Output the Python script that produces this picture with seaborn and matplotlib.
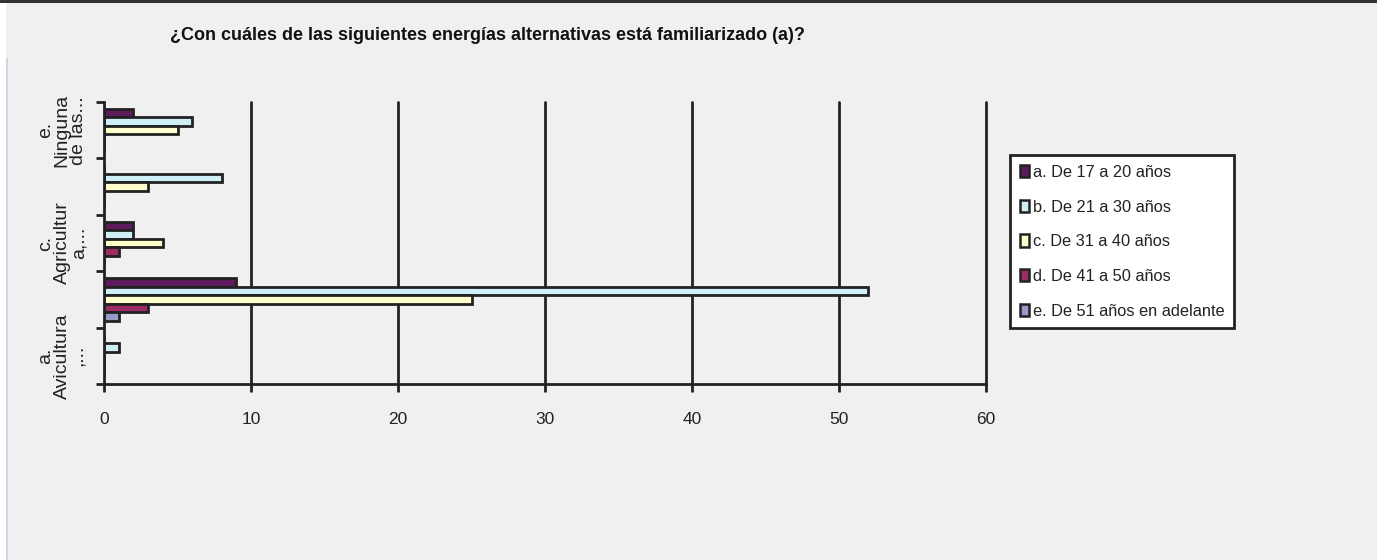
import matplotlib
matplotlib.use("Agg")
import matplotlib.pyplot as plt
from matplotlib.patches import Rectangle
import seaborn as sns
import pandas as pd

categories = ["a. Avicultura,...", "b.", "c. Agricultura,...", "d.", "e. Ninguna de las..."]
tick_labels = ["a.\nAvicultura\n,...", "", "c.\nAgricultur\na,...", "", "e.\nNinguna\nde las..."]
series = ["a. De 17 a 20 años", "b. De 21 a 30 años", "c. De 31 a 40 años",
          "d. De 41 a 50 años", "e. De 51 años en adelante"]
s_a = [0, 9, 2, 0, 2]
s_b = [1, 52, 2, 8, 6]
s_c = [0, 25, 4, 3, 5]
s_d = [0, 3, 1, 0, 0]
s_e = [0, 1, 0, 0, 0]
colors = ["#5E1B5E", "#CFEEF5", "#FFFFCC", "#9C2C64", "#9999CC"]
title = "¿Con cuáles de las siguientes energías alternativas está familiarizado (a)?"

rows = []
for sname, vals in zip(series, [s_a, s_b, s_c, s_d, s_e]):
    for cat, v in zip(categories, vals):
        rows.append({"cat": cat, "serie": sname, "val": v})
df = pd.DataFrame(rows)

sns.set_theme(style="white")
plt.rcParams["font.family"] = ["Liberation Sans", "DejaVu Sans"]

W, H = 1377, 560
fig = plt.figure(figsize=(W / 100, H / 100), dpi=100, facecolor="#F0F0F0")
ax = fig.add_axes([104 / W, 1 - 384 / H, (986 - 104) / W, (384 - 102) / H])
ax.set_facecolor("#F0F0F0")

order = categories[::-1]
sns.barplot(data=df, x="val", y="cat", hue="serie", order=order, hue_order=series,
            palette=colors, orient="h", width=0.76, ax=ax,
            edgecolor="#222222", linewidth=2.0, legend=False, saturation=1)

ax.set_xlim(0, 60)
ax.set_ylim(4.5, -0.5)
ax.set_xticks(range(0, 61, 10))
ax.set_xticklabels([str(v) for v in range(0, 61, 10)], fontsize=12.5)
ax.set_yticks([i - 0.5 for i in range(6)])
ax.set_yticklabels([])
ax.set_yticks(range(5), minor=True)
ax.set_yticklabels(tick_labels[::-1], minor=True, rotation=90, va="center", ha="center",
                   fontsize=14, linespacing=0.95, color="#222222")
ax.tick_params(axis="y", which="minor", length=0, pad=30)
ax.tick_params(axis="y", which="major", length=6, width=2, color="#222222", left=True)
ax.tick_params(axis="x", which="major", length=6, width=2, color="#222222", bottom=True,
               direction="out", pad=14, labelcolor="#222222")
ax.set_xlabel("")
ax.set_ylabel("")
for v in range(10, 61, 10):
    ax.axvline(v, color="#222222", lw=2, zorder=0.5, clip_on=False)
for side in ["top", "right"]:
    ax.spines[side].set_visible(False)
for side in ["left", "bottom"]:
    ax.spines[side].set_color("#222222")
    ax.spines[side].set_linewidth(2)

handles = [Rectangle((0, 0), 1, 1, facecolor=c, edgecolor="#222222", lw=1.8) for c in colors]
leg = fig.legend(handles, series, loc="upper left",
                 bbox_to_anchor=(1010 / W, 1 - 155 / H), bbox_transform=fig.transFigure,
                 frameon=True, fancybox=False, framealpha=1, fontsize=11.8, labelspacing=1.2,
                 handlelength=0.55, handleheight=0.8, handletextpad=0.25,
                 borderpad=0.6, borderaxespad=0)
leg.get_frame().set_edgecolor("#222222")
leg.get_frame().set_linewidth(2)
leg.get_frame().set_facecolor("white")
for t in leg.get_texts():
    t.set_color("#222222")

fig.text(170 / W, 1 - 36 / H, title, ha="left", va="center", fontweight="bold",
         fontsize=13, color="#111111")

fig.patches.append(Rectangle((0, 1 - 3 / H), 1, 3 / H, transform=fig.transFigure,
                             facecolor="#333333", edgecolor="none", zorder=5))
fig.patches.append(Rectangle((0, 0), 6 / W, 1 - 3 / H, transform=fig.transFigure,
                             facecolor="white", edgecolor="none", zorder=5))
fig.patches.append(Rectangle((6 / W, 0), 2 / W, 1 - 58 / H, transform=fig.transFigure,
                             facecolor="#D0D4E4", edgecolor="none", zorder=5))

fig.savefig("out.png", dpi=100, facecolor=fig.get_facecolor())
